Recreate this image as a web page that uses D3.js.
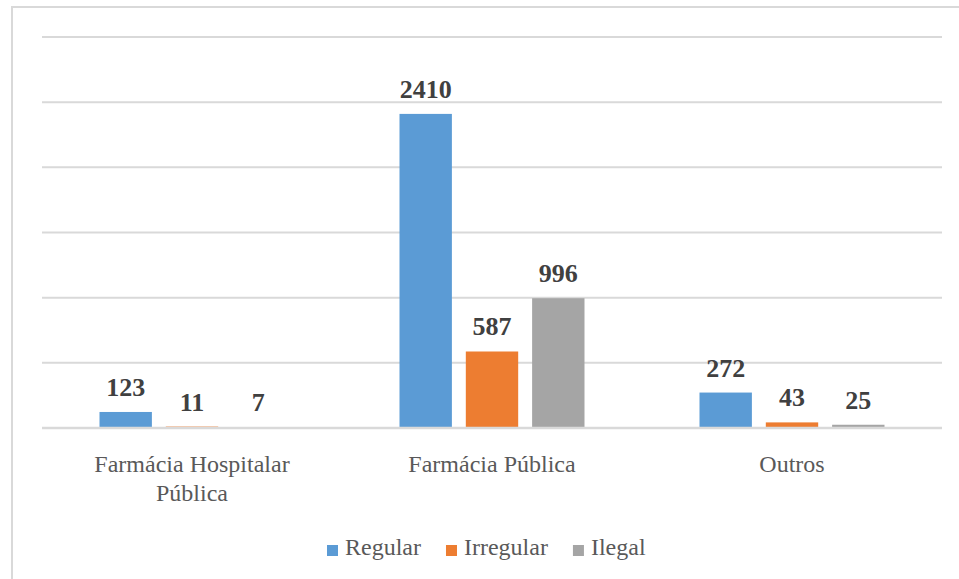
<!DOCTYPE html>
<html>
<head><meta charset="utf-8"><script src="https://cdn.jsdelivr.net/npm/d3@7/dist/d3.min.js"></script></head>
<body style="margin:0">
<svg id="s" width="959" height="579"></svg>
<script>
var categories = [["Farmácia Hospitalar", "Pública"], ["Farmácia Pública"], ["Outros"]];
var series = ["Regular", "Irregular", "Ilegal"];
var regular = [123, 2410, 272];
var irregular = [11, 587, 43];
var ilegal = [7, 996, 25];
var yTicks = [500, 1000, 1500, 2000, 2500, 3000];
var colors = ["#5b9bd5", "#ed7d31", "#a5a5a5"];

var values = [regular, irregular, ilegal];
var svg = d3.select("#s");

// chart frame
svg.append("rect")
  .attr("x", 12).attr("y", 7)
  .attr("width", 960).attr("height", 590)
  .attr("fill", "none")
  .attr("stroke", "#d9d9d9")
  .attr("stroke-width", 2);

var x = d3.scaleBand()
  .domain(d3.range(categories.length))
  .range([42, 942]);

var xs = d3.scaleBand()
  .domain(series)
  .range([0, 185])
  .paddingInner(0.21);

var y = d3.scaleLinear()
  .domain([0, 3000])
  .range([428, 37]);

// gridlines
svg.append("g")
  .selectAll("line")
  .data(yTicks)
  .join("line")
    .attr("x1", 42).attr("x2", 942)
    .attr("y1", function(d) { return y(d); })
    .attr("y2", function(d) { return y(d); })
    .attr("stroke", "#d9d9d9")
    .attr("stroke-width", 2);

function cells(i) {
  return series.map(function(s, k) { return {s: s, k: k, v: values[k][i], i: i}; });
}
var flat = d3.merge(d3.range(categories.length).map(cells));
function bx(d) { return x(d.i) + x.bandwidth() / 2 - 92.5 + xs(d.s); }

svg.append("g")
  .selectAll("rect")
  .data(flat)
  .join("rect")
    .attr("x", bx)
    .attr("y", function(d) { return y(d.v); })
    .attr("width", xs.bandwidth())
    .attr("height", function(d) { return y(0) - y(d.v); })
    .attr("fill", function(d) { return colors[d.k]; });

// baseline on top of bars
svg.append("line")
  .attr("x1", 42).attr("x2", 942)
  .attr("y1", y(0)).attr("y2", y(0))
  .attr("stroke", "#d9d9d9")
  .attr("stroke-width", 2.5);

svg.selectAll("text.val")
  .data(flat)
  .join("text")
    .attr("class", "val")
    .attr("x", function(d) { return bx(d) + xs.bandwidth() / 2; })
    .attr("y", function(d) { return y(d.v) - 16; })
    .attr("text-anchor", "middle")
    .attr("font-size", 26)
    .attr("font-weight", "bold")
    .attr("fill", "#404040")
    .style("font-family", "Liberation Serif")
    .text(function(d) { return d.v; });

// category labels, one text per line
var catLines = d3.merge(categories.map(function(lines, i) {
  return lines.map(function(t, j) { return {t: t, i: i, j: j}; });
}));
svg.selectAll("text.cat")
  .data(catLines)
  .join("text")
    .attr("class", "cat")
    .attr("x", function(d) { return x(d.i) + x.bandwidth() / 2; })
    .attr("y", function(d) { return 472 + d.j * 29; })
    .attr("text-anchor", "middle")
    .attr("font-size", 24)
    .attr("fill", "#595959")
    .style("font-family", "Liberation Serif")
    .text(function(d) { return d.t; });

// legend
var lx = 327;
series.forEach(function(s, k) {
  svg.append("rect")
    .attr("x", lx).attr("y", 545)
    .attr("width", 11).attr("height", 11)
    .attr("fill", colors[k]);
  var t = svg.append("text")
    .attr("x", lx + 18).attr("y", 555)
    .attr("font-size", 24)
    .attr("fill", "#595959")
    .style("font-family", "Liberation Serif")
    .text(s);
  lx += 18 + t.node().getComputedTextLength() + 25;
});
</script>
</body>
</html>
